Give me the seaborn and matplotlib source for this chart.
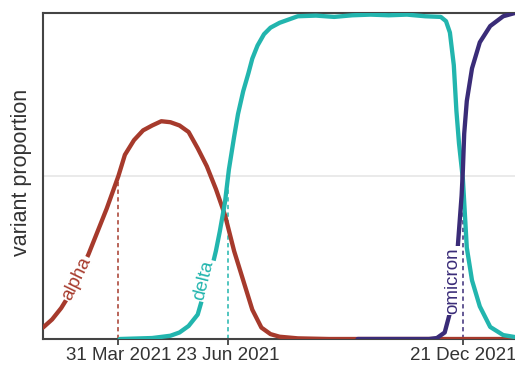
import numpy as np
import pandas as pd
import matplotlib
matplotlib.use("Agg")
import matplotlib.pyplot as plt
import seaborn as sns

# Share of sequenced cases by variant
alpha_dates = ["2021-02-01", "2021-02-08", "2021-02-15", "2021-02-22", "2021-03-01",
               "2021-03-08", "2021-03-15", "2021-03-22", "2021-03-31", "2021-04-05",
               "2021-04-12", "2021-04-19", "2021-04-26", "2021-05-03", "2021-05-10",
               "2021-05-17", "2021-05-24", "2021-05-31", "2021-06-07", "2021-06-14",
               "2021-06-21", "2021-06-28", "2021-07-05", "2021-07-12", "2021-07-19",
               "2021-07-26", "2021-08-02", "2021-08-16", "2021-09-09", "2021-10-15",
               "2021-12-01", "2022-02-10"]
alpha_values = [0.035, 0.06, 0.095, 0.14, 0.20, 0.26, 0.33, 0.40, 0.50, 0.565,
                0.61, 0.64, 0.655, 0.668, 0.665, 0.655, 0.635, 0.585, 0.53, 0.46,
                0.38, 0.27, 0.18, 0.09, 0.035, 0.015, 0.007, 0.002, 0.0, 0.0,
                0.0, 0.0]

delta_dates = ["2021-04-01", "2021-04-26", "2021-05-10", "2021-05-17", "2021-05-24",
               "2021-05-31", "2021-06-04", "2021-06-07", "2021-06-11", "2021-06-14",
               "2021-06-17", "2021-06-21", "2021-06-24", "2021-06-28", "2021-07-01",
               "2021-07-05", "2021-07-09", "2021-07-12", "2021-07-16", "2021-07-21",
               "2021-07-26", "2021-08-02", "2021-08-09", "2021-08-16", "2021-08-30",
               "2021-09-13", "2021-09-27", "2021-10-11", "2021-10-25", "2021-11-08",
               "2021-11-22", "2021-12-04", "2021-12-08", "2021-12-11", "2021-12-14",
               "2021-12-16", "2021-12-18", "2021-12-21", "2021-12-24", "2021-12-28",
               "2022-01-03", "2022-01-11", "2022-01-21", "2022-01-30", "2022-02-10"]
delta_values = [0.0, 0.003, 0.01, 0.02, 0.04, 0.075, 0.13, 0.17, 0.22, 0.27,
                0.33, 0.42, 0.52, 0.62, 0.69, 0.76, 0.815, 0.86, 0.90, 0.935,
                0.955, 0.97, 0.98, 0.99, 0.992, 0.988, 0.993, 0.995, 0.993, 0.995,
                0.99, 0.988, 0.975, 0.94, 0.84, 0.70, 0.60, 0.49, 0.28, 0.18,
                0.10, 0.037, 0.012, 0.006, 0.004]

omicron_dates = ["2021-10-01", "2021-11-25", "2021-12-01", "2021-12-07", "2021-12-11",
                 "2021-12-15", "2021-12-17", "2021-12-20", "2021-12-21", "2021-12-22",
                 "2021-12-24", "2021-12-28", "2022-01-03", "2022-01-11", "2022-01-21",
                 "2022-01-30", "2022-02-10"]
omicron_values = [0.0, 0.0, 0.003, 0.02, 0.08, 0.18, 0.28, 0.44, 0.52, 0.63,
                  0.73, 0.83, 0.91, 0.96, 0.99, 1.0, 1.0]

variants = ["alpha", "delta", "omicron"]
variant_colors = ["#a63a2c", "#22b5ae", "#3a2c78"]

# Dates on which each variant passed half of all cases
marker_dates = ["2021-03-31", "2021-06-23", "2021-12-21"]
marker_labels = ["31 Mar 2021", "23 Jun 2021", "21 Dec 2021"]

series = {
    "alpha": (alpha_dates, alpha_values),
    "delta": (delta_dates, delta_values),
    "omicron": (omicron_dates, omicron_values),
}
frames = []
for name in variants:
    d, v = series[name]
    frames.append(pd.DataFrame({"date": pd.to_datetime(d), "proportion": v, "variant": name}))
df = pd.concat(frames, ignore_index=True)
palette = dict(zip(variants, variant_colors))

sns.set_theme(style="white")
plt.rcParams["font.family"] = ["Liberation Sans", "DejaVu Sans"]

fig = plt.figure(figsize=(5.15, 3.66), dpi=100)
ax = fig.add_axes([43 / 515, 27 / 366, 481 / 515, 326 / 366])

sns.lineplot(data=df, x="date", y="proportion", hue="variant", palette=palette,
             linewidth=3.1, legend=False, ax=ax, zorder=3)
for line in ax.get_lines():
    line.set_solid_capstyle("round")
    line.set_solid_joinstyle("round")

# Dashed drop lines from the axis up to each curve on its marker date
origin = pd.Timestamp("2021-01-01")
for name, md in zip(variants, marker_dates):
    sub = df[df["variant"] == name]
    t = pd.Timestamp(md)
    xs = (sub["date"] - origin).dt.days.values
    h = np.interp((t - origin).days, xs, sub["proportion"].values)
    ax.vlines(t, 0, h, colors=palette[name], linewidth=1.1,
              linestyles=(0, (2.8, 2.2)), zorder=2)

# Inline variant labels along their curves
label_spots = {
    "alpha": ("2021-02-27", 0.185, 64),
    "delta": ("2021-06-05", 0.18, 76),
    "omicron": ("2021-12-13", 0.18, 90),
}
for name in variants:
    dt, yv, rot = label_spots[name]
    ax.text(pd.Timestamp(dt), yv, name, color=palette[name], fontsize=13.5,
            rotation=rot, rotation_mode="anchor", ha="center", va="center",
            bbox=dict(boxstyle="square,pad=0.06", fc="white", ec="none"), zorder=6)

ax.set_xlim(pd.Timestamp("2021-02-01"), pd.Timestamp("2022-02-06"))
ax.set_ylim(0, 1)
ax.set_xticks(pd.to_datetime(marker_dates))
ax.set_xticklabels(marker_labels)
ax.set_yticks([0.5])
ax.set_yticklabels([""])
ax.yaxis.grid(True, color="#e6e6e6", linewidth=1.2)
ax.xaxis.grid(False)
ax.tick_params(axis="x", direction="out", length=4.5, width=1.2, color="#333333",
               labelsize=13.5, labelcolor="#333333", pad=1, bottom=True)
ax.tick_params(axis="y", length=0)
ax.set_xlabel("")
ax.set_ylabel("variant proportion", fontsize=15.5, color="#333333")
ax.yaxis.set_label_coords(-0.022, 0.51)
for side in ["left", "bottom", "top", "right"]:
    ax.spines[side].set_visible(True)
    ax.spines[side].set_color("#444444")
    ax.spines[side].set_linewidth(1.5)

fig.savefig("out.png", dpi=100)
